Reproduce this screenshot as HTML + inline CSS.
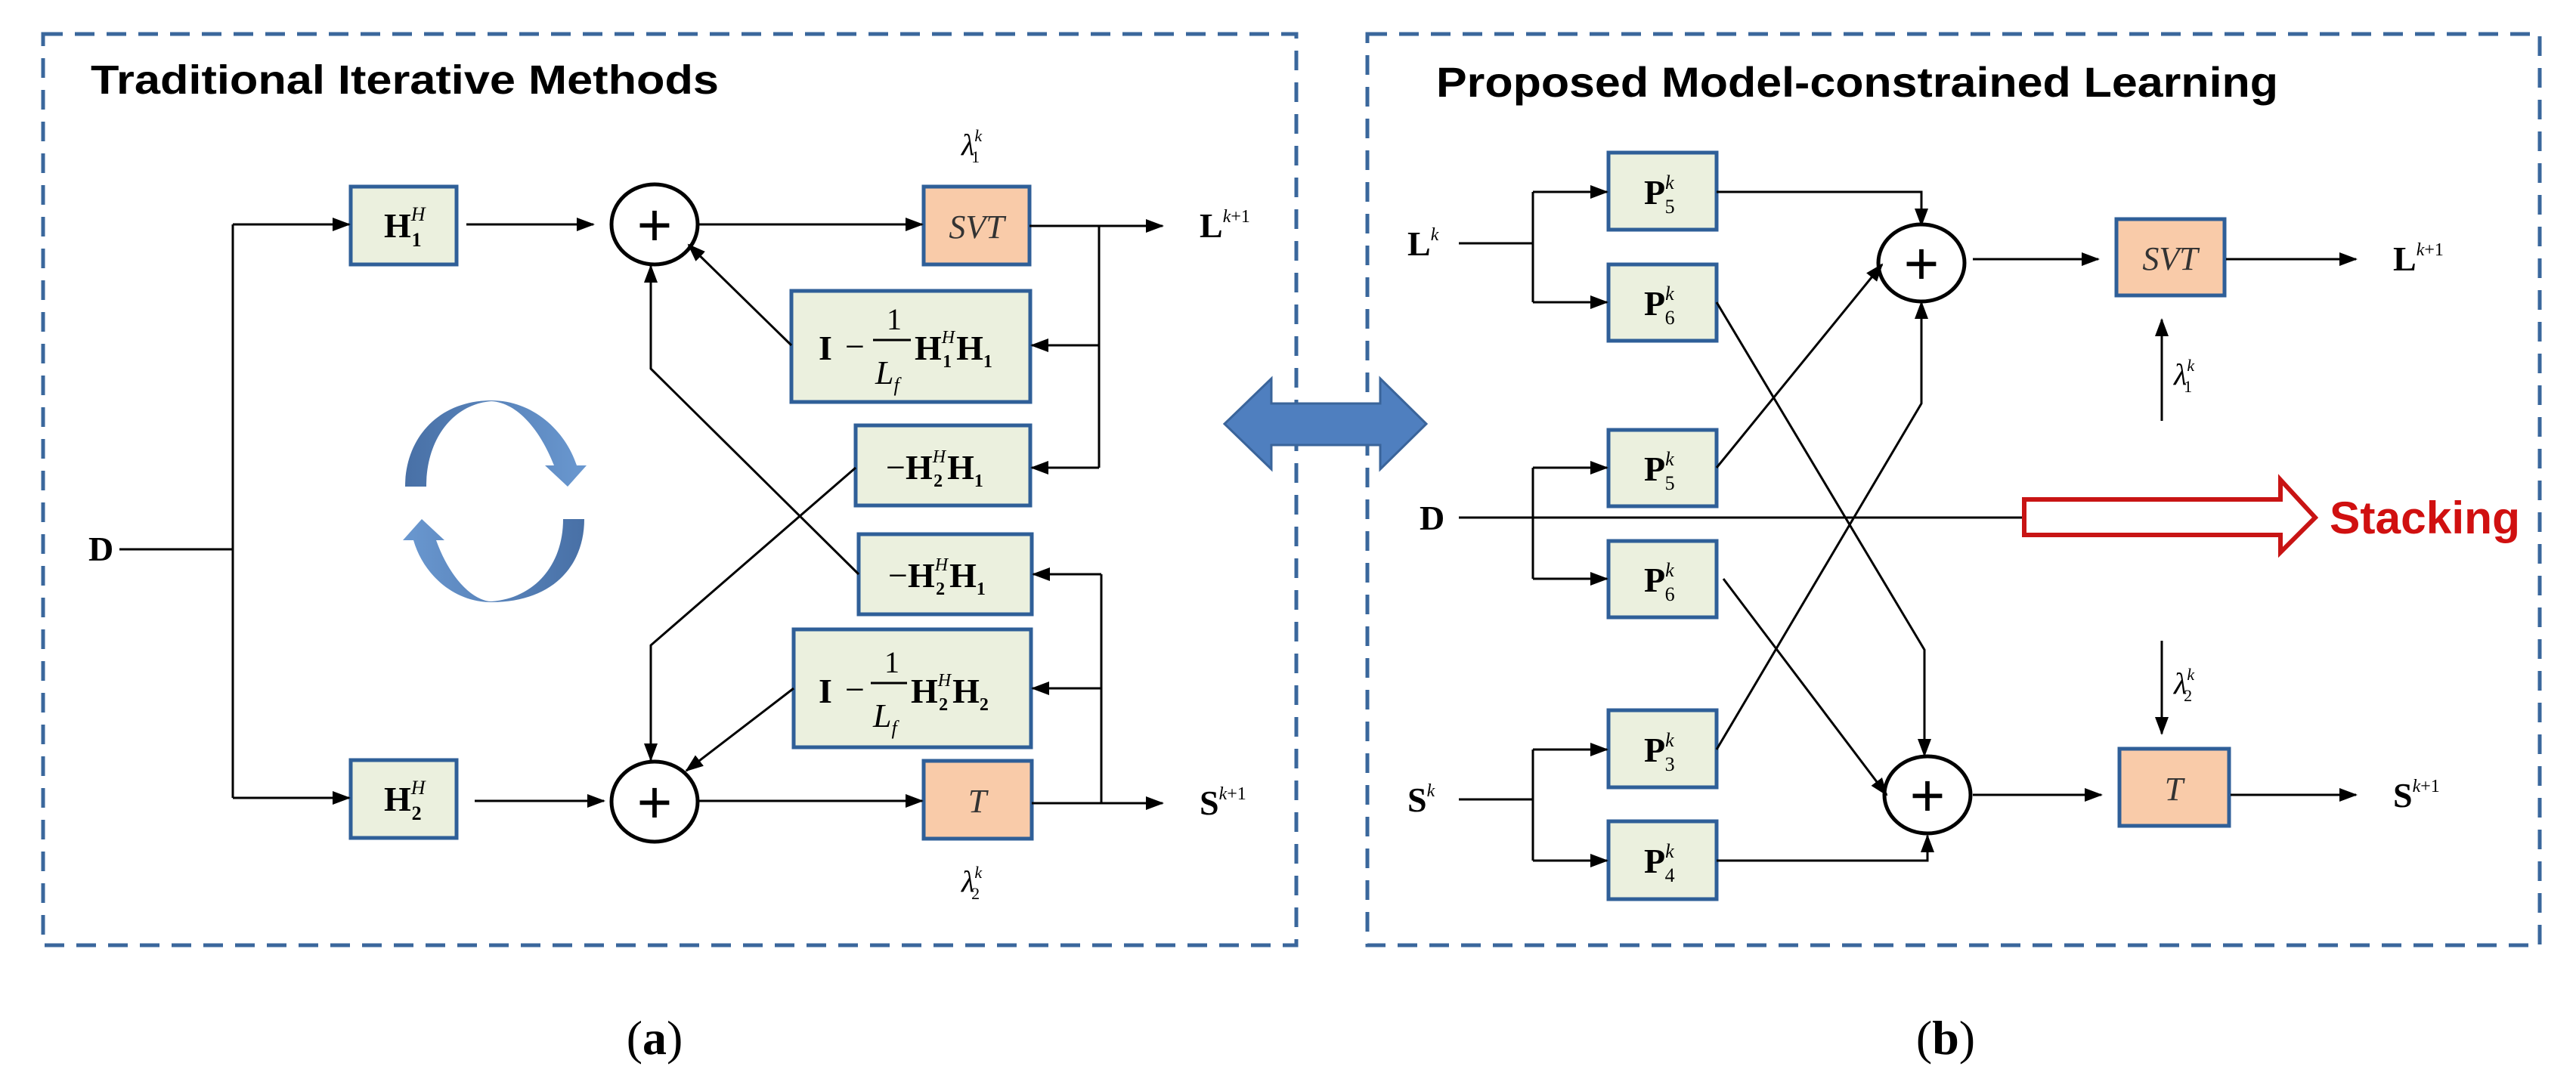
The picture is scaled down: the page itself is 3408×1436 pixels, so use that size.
<!DOCTYPE html>
<html><head><meta charset="utf-8"><style>
html,body{margin:0;padding:0;background:#fff;}
svg{display:block;}
.m{font-family:"Liberation Serif",serif;font-weight:bold;}
.i{font-family:"Liberation Serif",serif;font-style:italic;font-weight:normal;}
</style></head><body>
<svg width="3408" height="1436" viewBox="0 0 3408 1436" xmlns="http://www.w3.org/2000/svg">
<defs>
<marker id="a" markerWidth="24" markerHeight="18" refX="22" refY="9" orient="auto" markerUnits="userSpaceOnUse"><path d="M0,0 L24,9 L0,18 z" fill="#000"/></marker>
<linearGradient id="g1" x1="0" y1="0" x2="1" y2="0"><stop offset="0" stop-color="#4870a6"/><stop offset="1" stop-color="#6a98d0"/></linearGradient>
<linearGradient id="g2" x1="1" y1="0" x2="0" y2="0"><stop offset="0" stop-color="#4870a6"/><stop offset="1" stop-color="#6a98d0"/></linearGradient>
</defs>
<g fill="none" stroke="#3a679c" stroke-width="5" stroke-dasharray="26,16">
<rect x="57" y="45" width="1658" height="1206"/>
<rect x="1809" y="45" width="1551" height="1206"/>
</g>
<text x="120" y="124" font-family="Liberation Sans,sans-serif" font-weight="bold" font-size="54" textLength="831" lengthAdjust="spacingAndGlyphs">Traditional Iterative Methods</text>
<text x="1900" y="128" font-family="Liberation Sans,sans-serif" font-weight="bold" font-size="56" textLength="1114" lengthAdjust="spacingAndGlyphs">Proposed Model-constrained Learning</text>

<g stroke="#2f5f98" stroke-width="5" fill="#ebf0de">
<rect x="464" y="247" width="140" height="103"/>
<rect x="464" y="1006" width="140" height="103"/>
<rect x="1047" y="385" width="316" height="147"/>
<rect x="1132" y="563" width="231" height="106"/>
<rect x="1136" y="707" width="229" height="106"/>
<rect x="1050" y="833" width="314" height="156"/>
<rect x="2128" y="202" width="143" height="102"/>
<rect x="2128" y="350" width="143" height="101"/>
<rect x="2128" y="569" width="143" height="101"/>
<rect x="2128" y="716" width="143" height="101"/>
<rect x="2128" y="940" width="143" height="102"/>
<rect x="2128" y="1087" width="143" height="103"/>
</g>
<g stroke="#2f5f98" stroke-width="5" fill="#f9cba9">
<rect x="1222" y="247" width="140" height="103"/>
<rect x="1222" y="1007" width="143" height="103"/>
<rect x="2800" y="290" width="143" height="101"/>
<rect x="2804" y="991" width="145" height="102"/>
</g>

<g stroke="#000" stroke-width="3" fill="none">
<path d="M158,727 H308 M308,297 V1056"/>
<path d="M308,297 H462" marker-end="url(#a)"/>
<path d="M308,1056 H462" marker-end="url(#a)"/>
<path d="M617,297 H785" marker-end="url(#a)"/>
<path d="M628,1060 H799" marker-end="url(#a)"/>
<path d="M923,297 H1220" marker-end="url(#a)"/>
<path d="M923,1060 H1220" marker-end="url(#a)"/>
<path d="M1362,299 H1538" marker-end="url(#a)"/>
<path d="M1365,1063 H1538" marker-end="url(#a)"/>
<path d="M1454,299 V619"/>
<path d="M1454,457 H1365" marker-end="url(#a)"/>
<path d="M1454,619 H1365" marker-end="url(#a)"/>
<path d="M1457,1063 V760"/>
<path d="M1457,760 H1367" marker-end="url(#a)"/>
<path d="M1457,911 H1366" marker-end="url(#a)"/>
<path d="M1047,457 L911,324" marker-end="url(#a)"/>
<path d="M1136,760 L861,488 V352" marker-end="url(#a)"/>
<path d="M1132,619 L861,854 V1006" marker-end="url(#a)"/>
<path d="M1050,911 L908,1020" marker-end="url(#a)"/>
<ellipse cx="866" cy="297" rx="57" ry="53" stroke-width="5"/>
<ellipse cx="866" cy="1061" rx="57" ry="53" stroke-width="5"/>
<path d="M1930,322 H2028 M2028,254 V400"/>
<path d="M2028,254 H2126" marker-end="url(#a)"/>
<path d="M2028,400 H2126" marker-end="url(#a)"/>
<path d="M1930,685 H2680 M2028,619 V766"/>
<path d="M2028,619 H2126" marker-end="url(#a)"/>
<path d="M2028,766 H2126" marker-end="url(#a)"/>
<path d="M1930,1058 H2028 M2028,992 V1139"/>
<path d="M2028,992 H2126" marker-end="url(#a)"/>
<path d="M2028,1139 H2126" marker-end="url(#a)"/>
<path d="M2271,254 H2542 V298" marker-end="url(#a)"/>
<path d="M2271,400 L2546,860 V1000" marker-end="url(#a)"/>
<path d="M2271,619 L2490,350" marker-end="url(#a)"/>
<path d="M2280,766 L2496,1052" marker-end="url(#a)"/>
<path d="M2271,992 L2542,534 V400" marker-end="url(#a)"/>
<path d="M2271,1139 H2550 V1106" marker-end="url(#a)"/>
<path d="M2610,343 H2776" marker-end="url(#a)"/>
<path d="M2610,1052 H2780" marker-end="url(#a)"/>
<path d="M2945,343 H3117" marker-end="url(#a)"/>
<path d="M2951,1052 H3117" marker-end="url(#a)"/>
<path d="M2860,557 V423" marker-end="url(#a)"/>
<path d="M2860,848 V971" marker-end="url(#a)"/>
<ellipse cx="2542" cy="348" rx="57" ry="51" stroke-width="5"/>
<ellipse cx="2550" cy="1052" rx="57" ry="51" stroke-width="5"/>
</g>
<g font-family="Liberation Sans,sans-serif" font-size="80" text-anchor="middle">
<text x="866" y="325">+</text><text x="866" y="1089">+</text>
<text x="2542" y="376">+</text><text x="2550" y="1080">+</text>
</g>

<path d="M536,644 C536,580 580,530 650,530 C705,530 748,570 763,616 L776,616 L751,644 L721,616 L733,616 C715,570 685,533 650,531 C600,535 564,580 564,644 Z" fill="url(#g1)"/>
<path d="M773,687 C773,750 730,797 650,797 C600,797 560,760 547,715 L533,715 L558,687 L588,715 L577,715 C595,765 625,795 650,796 C705,792 745,750 745,687 Z" fill="url(#g2)"/>

<path d="M1620,561 L1682,501 L1682,534 L1826,534 L1826,501 L1887,561 L1826,621 L1826,589 L1682,589 L1682,621 Z" fill="#4f7fbf" stroke="#3a649a" stroke-width="3"/>
<path d="M2678,661 L3017,661 L3017,635 L3063,685 L3017,731 L3017,708 L2678,708 Z" fill="#fff" stroke="#c81414" stroke-width="6"/>
<text x="3082" y="706" font-family="Liberation Sans,sans-serif" font-weight="bold" font-size="60" fill="#d01010" textLength="252" lengthAdjust="spacingAndGlyphs">Stacking</text>

<g class="m" font-size="46">
<text x="508" y="314">H<tspan class="i" font-size="26" dy="-22">H</tspan><tspan font-size="26" dx="-18" dy="34">1</tspan></text>
<text x="508" y="1073">H<tspan class="i" font-size="26" dy="-22">H</tspan><tspan font-size="26" dx="-18" dy="34">2</tspan></text>
<text x="1083" y="476">I</text>
<text x="1118" y="474" font-weight="normal">−</text>
<text x="1173" y="436" font-weight="normal" font-size="40">1</text>
<line x1="1155" y1="450" x2="1205" y2="450" stroke="#000" stroke-width="3"/>
<text x="1158" y="508" class="i" font-size="44">L<tspan font-size="26" dy="10">f</tspan></text>
<text x="1210" y="476">H<tspan class="i" font-size="24" dy="-22">H</tspan><tspan font-size="24" dx="-16" dy="32">1</tspan><tspan dy="-10" dx="6">H</tspan><tspan font-size="24" dy="10">1</tspan></text>
<text x="1172" y="634"><tspan font-weight="normal">−</tspan>H<tspan class="i" font-size="24" dy="-22">H</tspan><tspan font-size="24" dx="-16" dy="32">2</tspan><tspan dy="-10" dx="6">H</tspan><tspan font-size="24" dy="10">1</tspan></text>
<text x="1175" y="777"><tspan font-weight="normal">−</tspan>H<tspan class="i" font-size="24" dy="-22">H</tspan><tspan font-size="24" dx="-16" dy="32">2</tspan><tspan dy="-10" dx="6">H</tspan><tspan font-size="24" dy="10">1</tspan></text>
<text x="1083" y="930">I</text>
<text x="1118" y="928" font-weight="normal">−</text>
<text x="1170" y="890" font-weight="normal" font-size="40">1</text>
<line x1="1152" y1="904" x2="1200" y2="904" stroke="#000" stroke-width="3"/>
<text x="1155" y="962" class="i" font-size="44">L<tspan font-size="26" dy="10">f</tspan></text>
<text x="1205" y="930">H<tspan class="i" font-size="24" dy="-22">H</tspan><tspan font-size="24" dx="-16" dy="32">2</tspan><tspan dy="-10" dx="6">H</tspan><tspan font-size="24" dy="10">2</tspan></text>
<text x="117" y="742">D</text>
<text x="1587" y="314">L<tspan class="i" font-size="24" font-weight="normal" dy="-20">k</tspan><tspan font-size="24" font-weight="normal">+1</tspan></text>
<text x="1587" y="1078">S<tspan class="i" font-size="24" font-weight="normal" dy="-20">k</tspan><tspan font-size="24" font-weight="normal">+1</tspan></text>
<text x="1862" y="338">L<tspan class="i" font-size="24" font-weight="normal" dy="-20">k</tspan></text>
<text x="1878" y="701">D</text>
<text x="1862" y="1074">S<tspan class="i" font-size="24" font-weight="normal" dy="-20">k</tspan></text>
<text x="3166" y="358">L<tspan class="i" font-size="24" font-weight="normal" dy="-20">k</tspan><tspan font-size="24" font-weight="normal">+1</tspan></text>
<text x="3166" y="1068">S<tspan class="i" font-size="24" font-weight="normal" dy="-20">k</tspan><tspan font-size="24" font-weight="normal">+1</tspan></text>
</g>
<g class="m" font-size="46">
<text x="2175" y="270">P<tspan class="i" font-size="26" font-weight="normal" dy="-20">k</tspan><tspan font-size="26" font-weight="normal" dx="-12" dy="32">5</tspan></text>
<text x="2175" y="417">P<tspan class="i" font-size="26" font-weight="normal" dy="-20">k</tspan><tspan font-size="26" font-weight="normal" dx="-12" dy="32">6</tspan></text>
<text x="2175" y="636">P<tspan class="i" font-size="26" font-weight="normal" dy="-20">k</tspan><tspan font-size="26" font-weight="normal" dx="-12" dy="32">5</tspan></text>
<text x="2175" y="783">P<tspan class="i" font-size="26" font-weight="normal" dy="-20">k</tspan><tspan font-size="26" font-weight="normal" dx="-12" dy="32">6</tspan></text>
<text x="2175" y="1008">P<tspan class="i" font-size="26" font-weight="normal" dy="-20">k</tspan><tspan font-size="26" font-weight="normal" dx="-12" dy="32">3</tspan></text>
<text x="2175" y="1155">P<tspan class="i" font-size="26" font-weight="normal" dy="-20">k</tspan><tspan font-size="26" font-weight="normal" dx="-12" dy="32">4</tspan></text>
</g>
<g class="i" font-size="44" text-anchor="middle" fill="#333">
<text x="1292" y="315">SVT</text>
<text x="1293" y="1075">T</text>
<text x="2871" y="357">SVT</text>
<text x="2876" y="1059">T</text>
</g>
<g class="i" font-size="40">
<text x="1272" y="205">λ<tspan font-size="22" dy="-18">k</tspan><tspan font-size="22" font-style="normal" dx="-14" dy="28">1</tspan></text>
<text x="1272" y="1180">λ<tspan font-size="22" dy="-18">k</tspan><tspan font-size="22" font-style="normal" dx="-14" dy="28">2</tspan></text>
<text x="2876" y="509">λ<tspan font-size="22" dy="-18">k</tspan><tspan font-size="22" font-style="normal" dx="-14" dy="28">1</tspan></text>
<text x="2876" y="918">λ<tspan font-size="22" dy="-18">k</tspan><tspan font-size="22" font-style="normal" dx="-14" dy="28">2</tspan></text>
</g>
<g font-family="Liberation Serif,serif" font-size="64" text-anchor="middle">
<text x="866" y="1395">(<tspan font-weight="bold">a</tspan>)</text>
<text x="2574" y="1395">(<tspan font-weight="bold">b</tspan>)</text>
</g>
</svg>
</body></html>
